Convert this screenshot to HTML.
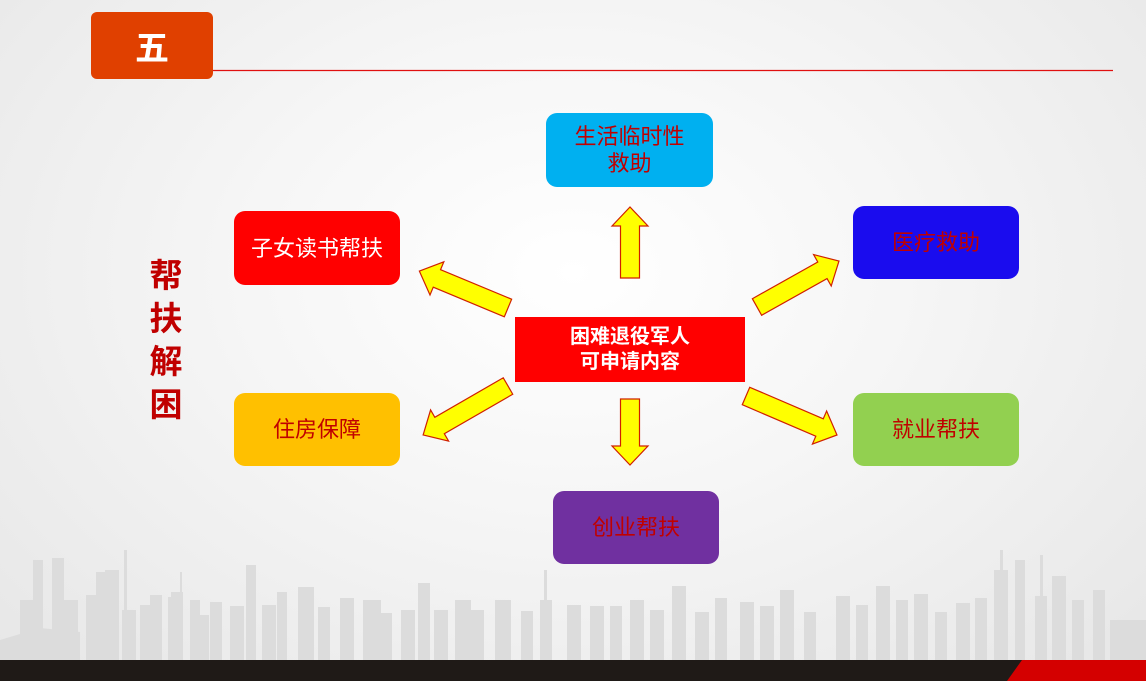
<!DOCTYPE html>
<html><head><meta charset="utf-8"><style>
body{margin:0;width:1146px;height:681px;overflow:hidden;font-family:"Liberation Sans","Noto Sans CJK SC",sans-serif;}
#bg{position:absolute;left:0;top:0;width:1146px;height:681px;background:radial-gradient(ellipse at 50% 40%,#ffffff 0%,#f6f6f6 40%,#e6e6e6 100%);}
.n{position:absolute;border-radius:11px;display:flex;align-items:center;justify-content:center;text-align:center;font-size:22px;line-height:27px;}
</style></head><body>
<div id="bg"></div>
<svg width="1146" height="681" style="position:absolute;left:0;top:0">
<g fill="#dcdcdc">
<path d="M0 640 L40 628 L80 632 L80 660 L0 660Z"/>
<rect x="20" y="600" width="14" height="60"/><rect x="33" y="560" width="10" height="100"/><rect x="52" y="558" width="12" height="102"/><rect x="62" y="600" width="16" height="60"/>
<rect x="86" y="595" width="18" height="65"/><rect x="96" y="572" width="14" height="88"/><rect x="122" y="610" width="14" height="50"/>
<rect x="103" y="590" width="12" height="70"/><rect x="105" y="570" width="14" height="90"/><rect x="140" y="605" width="16" height="55"/>
<rect x="150" y="595" width="12" height="65"/><rect x="168" y="597" width="12" height="63"/><rect x="190" y="600" width="10" height="60"/>
<rect x="171" y="592" width="12" height="68"/><rect x="195" y="615" width="14" height="45"/><rect x="210" y="602" width="12" height="58"/>
<rect x="230" y="606" width="14" height="54"/><rect x="246" y="565" width="10" height="95"/><rect x="262" y="605" width="14" height="55"/>
<rect x="277" y="592" width="10" height="68"/><rect x="298" y="587" width="16" height="73"/><rect x="318" y="607" width="12" height="53"/>
<rect x="340" y="598" width="14" height="62"/><rect x="363" y="600" width="18" height="60"/><rect x="380" y="613" width="12" height="47"/>
<rect x="401" y="610" width="14" height="50"/><rect x="418" y="583" width="12" height="77"/><rect x="434" y="610" width="14" height="50"/>
<rect x="455" y="600" width="16" height="60"/><rect x="470" y="610" width="14" height="50"/><rect x="495" y="600" width="16" height="60"/>
<rect x="521" y="611" width="12" height="49"/><rect x="540" y="600" width="12" height="60"/><rect x="567" y="605" width="14" height="55"/>
<rect x="590" y="606" width="14" height="54"/><rect x="610" y="606" width="12" height="54"/><rect x="630" y="600" width="14" height="60"/>
<rect x="650" y="610" width="14" height="50"/><rect x="672" y="586" width="14" height="74"/><rect x="695" y="612" width="14" height="48"/>
<rect x="715" y="598" width="12" height="62"/><rect x="740" y="602" width="14" height="58"/><rect x="760" y="606" width="14" height="54"/>
<rect x="780" y="590" width="14" height="70"/><rect x="804" y="612" width="12" height="48"/><rect x="836" y="596" width="14" height="64"/>
<rect x="856" y="605" width="12" height="55"/><rect x="876" y="586" width="14" height="74"/><rect x="896" y="600" width="12" height="60"/>
<rect x="914" y="594" width="14" height="66"/><rect x="935" y="612" width="12" height="48"/><rect x="956" y="603" width="14" height="57"/>
<rect x="975" y="598" width="12" height="62"/><rect x="994" y="570" width="14" height="90"/><rect x="1015" y="560" width="10" height="100"/>
<rect x="1035" y="596" width="12" height="64"/><rect x="1052" y="576" width="14" height="84"/><rect x="1072" y="600" width="12" height="60"/>
<rect x="1093" y="590" width="12" height="70"/><rect x="1110" y="620" width="36" height="40"/>
<rect x="124" y="550" width="3" height="60"/><rect x="180" y="572" width="2" height="40"/><rect x="1000" y="550" width="3" height="30"/><rect x="1040" y="555" width="3" height="45"/><rect x="544" y="570" width="3" height="40"/>
</g>
<rect x="0" y="660" width="1146" height="21" fill="#1f1a17"/>
<polygon points="1022,660 1146,660 1146,681 1007,681" fill="#d40000"/>
<line x1="213" y1="70.5" x2="1113" y2="70.5" stroke="#e01010" stroke-width="1.2"/>
<g fill="#ffff00" stroke="#d02000" stroke-width="1.2">
<g transform="translate(630,278) rotate(-90)"><polygon points="0,-9.5 52,-9.5 52,-18 71,0 52,18 52,9.5 0,9.5"/></g>
<g transform="translate(630,399) rotate(90)"><polygon points="0,-9.5 47,-9.5 47,-18 66,0 47,18 47,9.5 0,9.5"/></g>
<g transform="translate(508,308) rotate(202.6)"><polygon points="0,-9.5 77,-9.5 77,-18 96,0 77,18 77,9.5 0,9.5"/></g>
<g transform="translate(757,307) rotate(-29.3)"><polygon points="0,-9.5 75,-9.5 75,-18 94,0 75,18 75,9.5 0,9.5"/></g>
<g transform="translate(508,386) rotate(150)"><polygon points="0,-9.5 79,-9.5 79,-18 98,0 79,18 79,9.5 0,9.5"/></g>
<g transform="translate(746,396) rotate(23.2)"><polygon points="0,-9.5 80,-9.5 80,-18 99,0 80,18 80,9.5 0,9.5"/></g>
</g>
</svg>
<div style="position:absolute;left:91px;top:12px;width:122px;height:67px;background:#e04000;border-radius:6px;color:#fff;font-weight:bold;font-size:34px;display:flex;align-items:center;justify-content:center;">五</div>
<div style="position:absolute;left:146px;top:254px;width:40px;color:#c00000;font-weight:bold;font-size:33px;line-height:43px;text-align:center;">帮<br>扶<br>解<br>困</div>
<div style="position:absolute;left:515px;top:317px;width:230px;height:65px;background:#ff0000;color:#fff;font-weight:bold;font-size:20px;line-height:25px;display:flex;align-items:center;justify-content:center;text-align:center;">困难退役军人<br>可申请内容</div>
<div class="n" style="left:546px;top:113px;width:167px;height:74px;background:#00b0f0;color:#c00000;">生活临时性<br>救助</div>
<div class="n" style="left:234px;top:211px;width:166px;height:74px;background:#ff0000;color:#fff;">子女读书帮扶</div>
<div class="n" style="left:853px;top:206px;width:166px;height:73px;background:#1a0cee;color:#c00000;">医疗救助</div>
<div class="n" style="left:234px;top:393px;width:166px;height:73px;background:#ffc000;color:#c00000;">住房保障</div>
<div class="n" style="left:853px;top:393px;width:166px;height:73px;background:#92d050;color:#c00000;">就业帮扶</div>
<div class="n" style="left:553px;top:491px;width:166px;height:73px;background:#7030a0;color:#c00000;">创业帮扶</div>
</body></html>
